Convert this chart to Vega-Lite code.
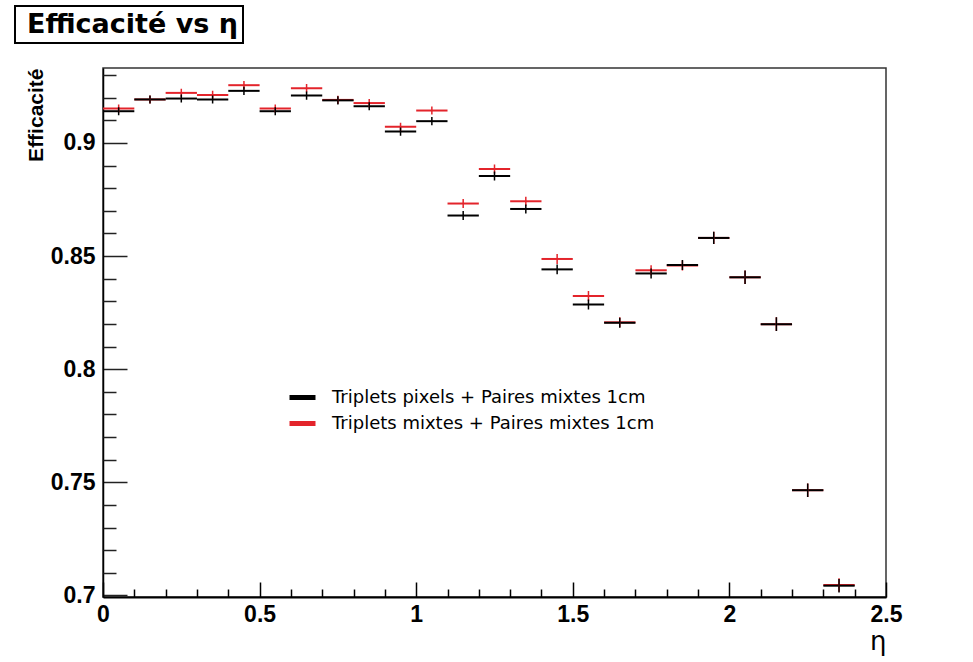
{
  "$schema": "https://vega.github.io/schema/vega-lite/v6.json",
  "background": "white",
  "padding": {"left": 14, "top": 5, "right": 5, "bottom": 5},
  "width": 783,
  "height": 529,
  "config": {"view": {"stroke": "#333333", "strokeWidth": 1.5}},
  "data": {"values": [
    {"serie": "Triplets mixtes + Paires mixtes 1cm", "eta": 0.05, "eta_lo": 0.0, "eta_hi": 0.1, "eff": 0.9152, "eff_lo": 0.9134, "eff_hi": 0.9170},
    {"serie": "Triplets mixtes + Paires mixtes 1cm", "eta": 0.15, "eta_lo": 0.1, "eta_hi": 0.2, "eff": 0.9192, "eff_lo": 0.9174, "eff_hi": 0.9210},
    {"serie": "Triplets mixtes + Paires mixtes 1cm", "eta": 0.25, "eta_lo": 0.2, "eta_hi": 0.3, "eff": 0.9221, "eff_lo": 0.9203, "eff_hi": 0.9239},
    {"serie": "Triplets mixtes + Paires mixtes 1cm", "eta": 0.35, "eta_lo": 0.3, "eta_hi": 0.4, "eff": 0.9212, "eff_lo": 0.9194, "eff_hi": 0.9230},
    {"serie": "Triplets mixtes + Paires mixtes 1cm", "eta": 0.45, "eta_lo": 0.4, "eta_hi": 0.5, "eff": 0.9255, "eff_lo": 0.9237, "eff_hi": 0.9273},
    {"serie": "Triplets mixtes + Paires mixtes 1cm", "eta": 0.55, "eta_lo": 0.5, "eta_hi": 0.6, "eff": 0.9152, "eff_lo": 0.9134, "eff_hi": 0.9170},
    {"serie": "Triplets mixtes + Paires mixtes 1cm", "eta": 0.65, "eta_lo": 0.6, "eta_hi": 0.7, "eff": 0.9242, "eff_lo": 0.9224, "eff_hi": 0.9260},
    {"serie": "Triplets mixtes + Paires mixtes 1cm", "eta": 0.75, "eta_lo": 0.7, "eta_hi": 0.8, "eff": 0.9190, "eff_lo": 0.9172, "eff_hi": 0.9208},
    {"serie": "Triplets mixtes + Paires mixtes 1cm", "eta": 0.85, "eta_lo": 0.8, "eta_hi": 0.9, "eff": 0.9176, "eff_lo": 0.9158, "eff_hi": 0.9194},
    {"serie": "Triplets mixtes + Paires mixtes 1cm", "eta": 0.95, "eta_lo": 0.9, "eta_hi": 1.0, "eff": 0.9071, "eff_lo": 0.9053, "eff_hi": 0.9089},
    {"serie": "Triplets mixtes + Paires mixtes 1cm", "eta": 1.05, "eta_lo": 1.0, "eta_hi": 1.1, "eff": 0.9143, "eff_lo": 0.9125, "eff_hi": 0.9161},
    {"serie": "Triplets mixtes + Paires mixtes 1cm", "eta": 1.15, "eta_lo": 1.1, "eta_hi": 1.2, "eff": 0.8732, "eff_lo": 0.8712, "eff_hi": 0.8752},
    {"serie": "Triplets mixtes + Paires mixtes 1cm", "eta": 1.25, "eta_lo": 1.2, "eta_hi": 1.3, "eff": 0.8885, "eff_lo": 0.8865, "eff_hi": 0.8905},
    {"serie": "Triplets mixtes + Paires mixtes 1cm", "eta": 1.35, "eta_lo": 1.3, "eta_hi": 1.4, "eff": 0.8742, "eff_lo": 0.8722, "eff_hi": 0.8762},
    {"serie": "Triplets mixtes + Paires mixtes 1cm", "eta": 1.45, "eta_lo": 1.4, "eta_hi": 1.5, "eff": 0.8487, "eff_lo": 0.8465, "eff_hi": 0.8509},
    {"serie": "Triplets mixtes + Paires mixtes 1cm", "eta": 1.55, "eta_lo": 1.5, "eta_hi": 1.6, "eff": 0.8323, "eff_lo": 0.8301, "eff_hi": 0.8345},
    {"serie": "Triplets mixtes + Paires mixtes 1cm", "eta": 1.65, "eta_lo": 1.6, "eta_hi": 1.7, "eff": 0.8207, "eff_lo": 0.8185, "eff_hi": 0.8229},
    {"serie": "Triplets mixtes + Paires mixtes 1cm", "eta": 1.75, "eta_lo": 1.7, "eta_hi": 1.8, "eff": 0.8437, "eff_lo": 0.8415, "eff_hi": 0.8459},
    {"serie": "Triplets mixtes + Paires mixtes 1cm", "eta": 1.85, "eta_lo": 1.8, "eta_hi": 1.9, "eff": 0.8458, "eff_lo": 0.8436, "eff_hi": 0.8480},
    {"serie": "Triplets mixtes + Paires mixtes 1cm", "eta": 1.95, "eta_lo": 1.9, "eta_hi": 2.0, "eff": 0.8580, "eff_lo": 0.8553, "eff_hi": 0.8607},
    {"serie": "Triplets mixtes + Paires mixtes 1cm", "eta": 2.05, "eta_lo": 2.0, "eta_hi": 2.1, "eff": 0.8406, "eff_lo": 0.8376, "eff_hi": 0.8436},
    {"serie": "Triplets mixtes + Paires mixtes 1cm", "eta": 2.15, "eta_lo": 2.1, "eta_hi": 2.2, "eff": 0.8199, "eff_lo": 0.8169, "eff_hi": 0.8229},
    {"serie": "Triplets mixtes + Paires mixtes 1cm", "eta": 2.25, "eta_lo": 2.2, "eta_hi": 2.3, "eff": 0.7465, "eff_lo": 0.7435, "eff_hi": 0.7495},
    {"serie": "Triplets mixtes + Paires mixtes 1cm", "eta": 2.35, "eta_lo": 2.3, "eta_hi": 2.4, "eff": 0.7046, "eff_lo": 0.7016, "eff_hi": 0.7076},
    {"serie": "Triplets pixels + Paires mixtes 1cm", "eta": 0.05, "eta_lo": 0.0, "eta_hi": 0.1, "eff": 0.9140, "eff_lo": 0.9122, "eff_hi": 0.9158},
    {"serie": "Triplets pixels + Paires mixtes 1cm", "eta": 0.15, "eta_lo": 0.1, "eta_hi": 0.2, "eff": 0.9192, "eff_lo": 0.9174, "eff_hi": 0.9210},
    {"serie": "Triplets pixels + Paires mixtes 1cm", "eta": 0.25, "eta_lo": 0.2, "eta_hi": 0.3, "eff": 0.9196, "eff_lo": 0.9178, "eff_hi": 0.9214},
    {"serie": "Triplets pixels + Paires mixtes 1cm", "eta": 0.35, "eta_lo": 0.3, "eta_hi": 0.4, "eff": 0.9192, "eff_lo": 0.9174, "eff_hi": 0.9210},
    {"serie": "Triplets pixels + Paires mixtes 1cm", "eta": 0.45, "eta_lo": 0.4, "eta_hi": 0.5, "eff": 0.9230, "eff_lo": 0.9212, "eff_hi": 0.9248},
    {"serie": "Triplets pixels + Paires mixtes 1cm", "eta": 0.55, "eta_lo": 0.5, "eta_hi": 0.6, "eff": 0.9140, "eff_lo": 0.9122, "eff_hi": 0.9158},
    {"serie": "Triplets pixels + Paires mixtes 1cm", "eta": 0.65, "eta_lo": 0.6, "eta_hi": 0.7, "eff": 0.9209, "eff_lo": 0.9191, "eff_hi": 0.9227},
    {"serie": "Triplets pixels + Paires mixtes 1cm", "eta": 0.75, "eta_lo": 0.7, "eta_hi": 0.8, "eff": 0.9188, "eff_lo": 0.9170, "eff_hi": 0.9206},
    {"serie": "Triplets pixels + Paires mixtes 1cm", "eta": 0.85, "eta_lo": 0.8, "eta_hi": 0.9, "eff": 0.9162, "eff_lo": 0.9144, "eff_hi": 0.9180},
    {"serie": "Triplets pixels + Paires mixtes 1cm", "eta": 0.95, "eta_lo": 0.9, "eta_hi": 1.0, "eff": 0.9050, "eff_lo": 0.9032, "eff_hi": 0.9068},
    {"serie": "Triplets pixels + Paires mixtes 1cm", "eta": 1.05, "eta_lo": 1.0, "eta_hi": 1.1, "eff": 0.9096, "eff_lo": 0.9078, "eff_hi": 0.9114},
    {"serie": "Triplets pixels + Paires mixtes 1cm", "eta": 1.15, "eta_lo": 1.1, "eta_hi": 1.2, "eff": 0.8679, "eff_lo": 0.8659, "eff_hi": 0.8699},
    {"serie": "Triplets pixels + Paires mixtes 1cm", "eta": 1.25, "eta_lo": 1.2, "eta_hi": 1.3, "eff": 0.8854, "eff_lo": 0.8834, "eff_hi": 0.8874},
    {"serie": "Triplets pixels + Paires mixtes 1cm", "eta": 1.35, "eta_lo": 1.3, "eta_hi": 1.4, "eff": 0.8708, "eff_lo": 0.8688, "eff_hi": 0.8728},
    {"serie": "Triplets pixels + Paires mixtes 1cm", "eta": 1.45, "eta_lo": 1.4, "eta_hi": 1.5, "eff": 0.8441, "eff_lo": 0.8419, "eff_hi": 0.8463},
    {"serie": "Triplets pixels + Paires mixtes 1cm", "eta": 1.55, "eta_lo": 1.5, "eta_hi": 1.6, "eff": 0.8286, "eff_lo": 0.8264, "eff_hi": 0.8308},
    {"serie": "Triplets pixels + Paires mixtes 1cm", "eta": 1.65, "eta_lo": 1.6, "eta_hi": 1.7, "eff": 0.8205, "eff_lo": 0.8183, "eff_hi": 0.8227},
    {"serie": "Triplets pixels + Paires mixtes 1cm", "eta": 1.75, "eta_lo": 1.7, "eta_hi": 1.8, "eff": 0.8423, "eff_lo": 0.8401, "eff_hi": 0.8445},
    {"serie": "Triplets pixels + Paires mixtes 1cm", "eta": 1.85, "eta_lo": 1.8, "eta_hi": 1.9, "eff": 0.8460, "eff_lo": 0.8438, "eff_hi": 0.8482},
    {"serie": "Triplets pixels + Paires mixtes 1cm", "eta": 1.95, "eta_lo": 1.9, "eta_hi": 2.0, "eff": 0.8580, "eff_lo": 0.8553, "eff_hi": 0.8607},
    {"serie": "Triplets pixels + Paires mixtes 1cm", "eta": 2.05, "eta_lo": 2.0, "eta_hi": 2.1, "eff": 0.8406, "eff_lo": 0.8376, "eff_hi": 0.8436},
    {"serie": "Triplets pixels + Paires mixtes 1cm", "eta": 2.15, "eta_lo": 2.1, "eta_hi": 2.2, "eff": 0.8199, "eff_lo": 0.8169, "eff_hi": 0.8229},
    {"serie": "Triplets pixels + Paires mixtes 1cm", "eta": 2.25, "eta_lo": 2.2, "eta_hi": 2.3, "eff": 0.7465, "eff_lo": 0.7435, "eff_hi": 0.7495},
    {"serie": "Triplets pixels + Paires mixtes 1cm", "eta": 2.35, "eta_lo": 2.3, "eta_hi": 2.4, "eff": 0.7043, "eff_lo": 0.7013, "eff_hi": 0.7073}
  ]},
  "resolve": {"axis": {"x": "independent", "y": "independent"}},
  "layer": [
    {
      "mark": {"type": "rule", "strokeWidth": 2},
      "encoding": {
        "x": {
          "field": "eta_lo", "type": "quantitative",
          "scale": {"domain": [0, 2.5], "nice": false, "zero": false},
          "axis": {
            "orient": "bottom",
            "title": "η",
            "values": [0, 0.5, 1, 1.5, 2, 2.5],
            "format": "~g",
            "tickSize": -15,
            "tickWidth": 1.5,
            "tickColor": "black",
            "domainColor": "black",
            "domainWidth": 2,
            "grid": false,
            "labelFont": "Liberation Sans",
            "labelFontSize": 23,
            "labelFontWeight": "bold",
            "labelColor": "black",
            "labelPadding": 21,
            "labelFlush": false,
            "labelOverlap": false,
            "titleFont": "DejaVu Sans",
            "titleFontSize": 26,
            "titleFontWeight": "normal",
            "titleColor": "black",
            "titleAnchor": "end",
            "titlePadding": 2
          }
        },
        "x2": {"field": "eta_hi"},
        "y": {
          "field": "eff", "type": "quantitative",
          "scale": {"domain": [0.6993, 0.9331], "nice": false, "zero": false},
          "axis": {
            "orient": "left",
            "title": "Efficacité",
            "values": [0.7, 0.75, 0.8, 0.85, 0.9],
            "format": "~g",
            "tickSize": -24,
            "tickWidth": 1.5,
            "tickColor": "#222222",
            "domainColor": "black",
            "domainWidth": 1.5,
            "grid": false,
            "labelFont": "Liberation Sans",
            "labelFontSize": 23,
            "labelFontWeight": "bold",
            "labelColor": "black",
            "labelPadding": 32,
            "labelFlush": false,
            "labelOverlap": false,
            "titleFont": "Liberation Sans",
            "titleFontSize": 21,
            "titleFontWeight": "bold",
            "titleColor": "black",
            "titleAnchor": "end",
            "titlePadding": 4
          }
        },
        "color": {
          "field": "serie", "type": "nominal",
          "scale": {"domain": ["Triplets pixels + Paires mixtes 1cm", "Triplets mixtes + Paires mixtes 1cm"], "range": ["#000000", "#e3242b"]},
          "legend": {
            "orient": "none", "legendX": 184, "legendY": 314,
            "title": null,
            "symbolType": "stroke", "symbolStrokeWidth": 5, "symbolSize": 676,
            "labelFont": "DejaVu Sans", "labelFontSize": 18, "labelColor": "black", "labelLimit": 0,
            "labelOffset": 14, "rowPadding": 0, "padding": 0
          }
        }
      }
    },
    {
      "mark": {"type": "rule", "strokeWidth": 1.5},
      "encoding": {
        "x": {
          "field": "eta", "type": "quantitative",
          "axis": {
            "orient": "bottom", "title": null, "labels": false, "domain": false, "grid": false,
            "values": [0.1, 0.2, 0.3, 0.4, 0.6, 0.7, 0.8, 0.9, 1.1, 1.2, 1.3, 1.4, 1.6, 1.7, 1.8, 1.9, 2.1, 2.2, 2.3, 2.4],
            "tickSize": -8, "tickWidth": 1.5, "tickColor": "black"
          }
        },
        "y": {
          "field": "eff_lo", "type": "quantitative",
          "axis": {
            "orient": "left", "title": null, "labels": false, "domain": false, "grid": false,
            "values": [0.71, 0.72, 0.73, 0.74, 0.76, 0.77, 0.78, 0.79, 0.81, 0.82, 0.83, 0.84, 0.86, 0.87, 0.88, 0.89, 0.91, 0.92, 0.93],
            "tickSize": -13, "tickWidth": 1.5, "tickColor": "#222222"
          }
        },
        "y2": {"field": "eff_hi"},
        "color": {"field": "serie", "type": "nominal"},
        "strokeDash": {
          "datum": "Efficacité vs η", "type": "nominal",
          "scale": {"range": [[1, 0]]},
          "legend": {
            "orient": "none", "legendX": -88, "legendY": -62,
            "title": null,
            "symbolOpacity": 0, "symbolSize": 0, "symbolStrokeWidth": 0,
            "labelFont": "DejaVu Sans", "labelFontSize": 27, "labelFontWeight": "bold", "labelColor": "black", "labelLimit": 0,
            "labelOffset": -20,
            "strokeColor": "black", "fillColor": "white",
            "padding": 5,
            "encode": {"legend": {"update": {"strokeWidth": {"value": 2}}}}
          }
        }
      }
    }
  ]
}
